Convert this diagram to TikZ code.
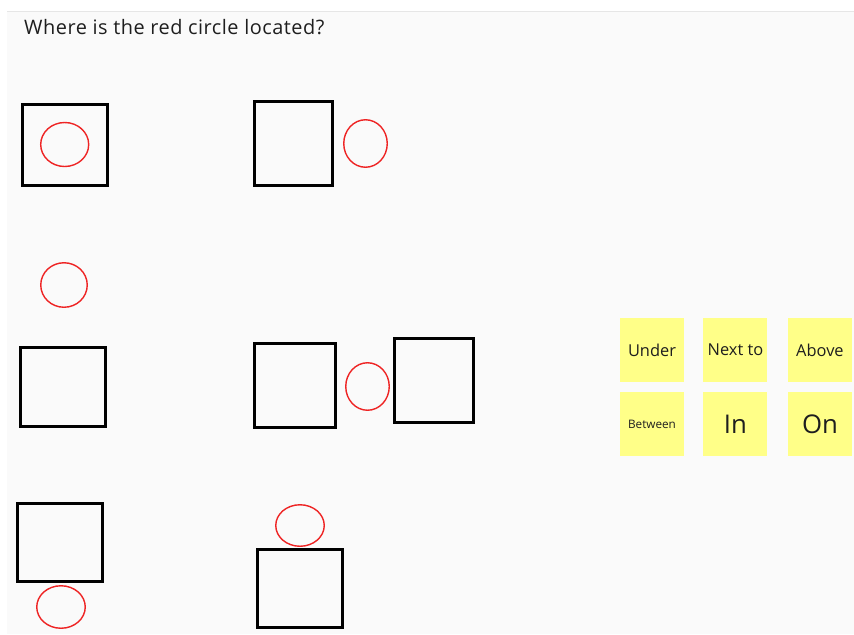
\documentclass[tikz,border=0pt]{standalone}
\usepackage{fontspec}
\setmainfont{Open Sans}
\usetikzlibrary{shapes.geometric, positioning}
\definecolor{PageGray}{RGB}{250,250,250}
\definecolor{EdgeGray}{RGB}{230,230,230}
\definecolor{CircleRed}{RGB}{238,36,36}
\definecolor{StickyYellow}{RGB}{255,255,136}
\definecolor{InkGray}{RGB}{30,30,30}

\begin{document}
\begin{tikzpicture}[x=0.3mm, y=-0.3mm,
  sq/.style 2 args={draw=black, line width=2.6pt, inner sep=0pt,
                    minimum width=#1*0.3mm, minimum height=#2*0.3mm},
  ring/.style 2 args={draw=CircleRed, line width=1.2pt, ellipse, inner sep=0pt,
                      minimum width=#1*0.3mm, minimum height=#2*0.3mm},
  sticky/.style={fill=StickyYellow, minimum size=19.2mm, inner sep=0pt,
                 text=InkGray, font=\fontsize{14}{16}\selectfont},
]
\useasboundingbox (0,0) rectangle (854,634);
\fill[PageGray] (7,12) rectangle (854,634);
\draw[EdgeGray, line width=1pt] (7,11.5) -- (854,11.5);

\node[anchor=west, inner sep=0pt, text=InkGray,
      font=\fontsize{17}{19}\selectfont\addfontfeatures{LetterSpace=2.5}]
  (question) at (24,27) {Where is the red circle located?};

% in
\node[sq={85}{81}] (boxin) at (65,145) {};
\node[ring={48}{44}] (redin) at (64.7,144.5) {};
% next to
\node[sq={78}{84}] (boxnext) at (293.5,143.5) {};
\node[ring={43.5}{47.5}] (rednext) at (365.5,143.5) {};
% above
\node[ring={46.5}{44.5}] (redabove) at (64,285) {};
\node[sq={85}{79}] (boxabove) at (63,387) {};
% between
\node[sq={81}{84}] (boxleft) at (295,385.5) {};
\node[ring={43.5}{47.5}] (redbetween) at (367.5,386.5) {};
\node[sq={79}{84}] (boxright) at (434,380.5) {};
% under
\node[sq={85}{78}] (boxunder) at (60,542.5) {};
\node[ring={48.5}{42.5}] (redunder) at (61,607) {};
% on
\node[ring={48.5}{41.5}] (redon) at (300,525.5) {};
\node[sq={85}{78}] (boxon) at (300,588.5) {};

\node[sticky] (under) at (652,350) {Under};
\node[sticky, right=5.7mm of under] (nextto) {Next to};
\node[sticky, right=6mm of nextto] (above) {Above};
\node[sticky, below=3mm of under, font=\fontsize{10}{11}\selectfont] (between) {Between};
\node[sticky, below=3mm of nextto, font=\fontsize{22}{24}\selectfont] (in) {In};
\node[sticky, below=3mm of above, font=\fontsize{22}{24}\selectfont] (on) {On};
\end{tikzpicture}
\end{document}
